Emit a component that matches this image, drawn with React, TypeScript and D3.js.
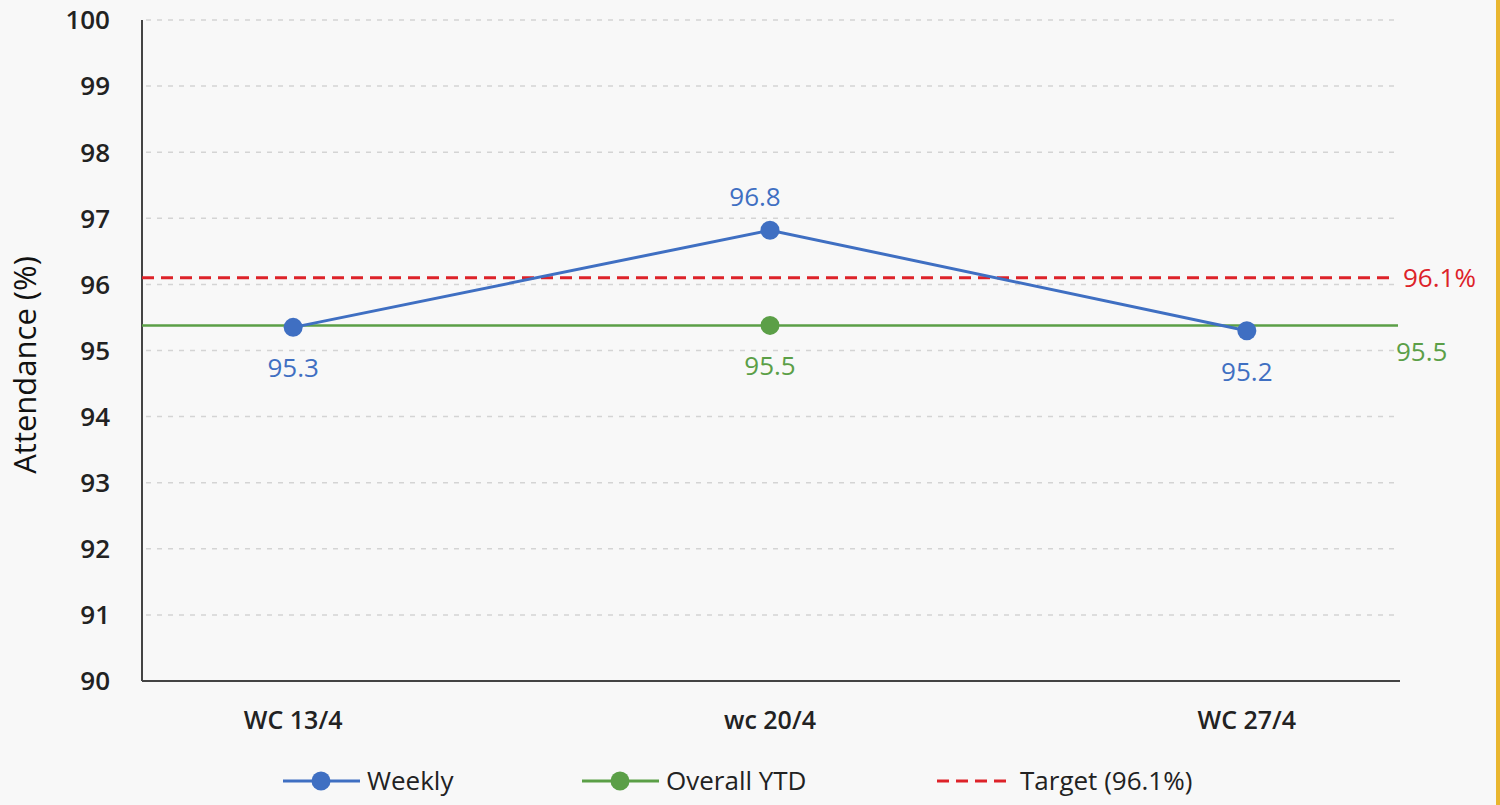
import React, { useEffect, useRef } from 'react';
import * as d3 from 'd3';

const weeks = ['WC 13/4', 'wc 20/4', 'WC 27/4'];
const weekly = [95.35, 96.82, 95.3];
const weeklyLabels = ['95.3', '96.8', '95.2'];
const overallYtd = 95.38;
const overallLabel = '95.5';
const target = 96.1;
const targetLabel = '96.1%';
const yTicks = [90, 91, 92, 93, 94, 95, 96, 97, 98, 99, 100];

const BLUE = '#3f6fc2';
const GREEN = '#5b9f47';
const RED = '#dd2229';
const FONT = '"Open Sans", "Liberation Sans", sans-serif';

const App = () => {
  const chartRef = useRef<SVGSVGElement>(null);

  useEffect(() => {
    document.body.style.margin = '0';
    if (!chartRef.current) return;

    const width = 1500;
    const height = 805;
    const left = 142;
    const right = 1398;
    const top = 20;
    const bottom = 681;

    const svg = d3.select(chartRef.current)
      .attr('width', width)
      .attr('height', height);
    svg.selectAll('*').remove();

    svg.append('rect')
      .attr('width', width)
      .attr('height', height)
      .attr('fill', '#f8f8f8');
    // orange strip on the right edge
    svg.append('rect')
      .attr('x', 1496)
      .attr('width', 4)
      .attr('height', height)
      .attr('fill', '#e9b62f');

    const x = d3.scalePoint<string>()
      .domain(weeks)
      .range([left, right])
      .padding(0.317);

    const y = d3.scaleLinear()
      .domain([90, 100])
      .range([bottom, top]);

    // gridlines
    svg.append('g')
      .selectAll('line')
      .data(yTicks.filter(t => t > 90))
      .enter().append('line')
      .attr('x1', left + 4)
      .attr('x2', right)
      .attr('y1', d => y(d))
      .attr('y2', d => y(d))
      .attr('stroke', '#d4d4d4')
      .attr('stroke-width', 1.5)
      .attr('stroke-dasharray', '5,6');

    // y tick labels
    svg.append('g')
      .selectAll('text')
      .data(yTicks)
      .enter().append('text')
      .attr('x', 110)
      .attr('y', d => y(d))
      .attr('dy', '0.36em')
      .attr('text-anchor', 'end')
      .attr('font-family', FONT)
      .attr('font-size', 26)
      .attr('font-weight', 600)
      .attr('fill', '#222')
      .text(d => d);

    // axes lines
    svg.append('line')
      .attr('x1', left).attr('x2', left)
      .attr('y1', top).attr('y2', bottom)
      .attr('stroke', '#444').attr('stroke-width', 2);
    svg.append('line')
      .attr('x1', left).attr('x2', right + 2)
      .attr('y1', bottom).attr('y2', bottom)
      .attr('stroke', '#444').attr('stroke-width', 2);

    // x labels
    svg.append('g')
      .selectAll('text')
      .data(weeks)
      .enter().append('text')
      .attr('x', d => x(d)!)
      .attr('y', 729)
      .attr('text-anchor', 'middle')
      .attr('font-family', FONT)
      .attr('font-size', 25)
      .attr('font-weight', 600)
      .attr('fill', '#222')
      .text(d => d);

    // y title
    svg.append('text')
      .attr('transform', `translate(36,${365}) rotate(-90)`)
      .attr('text-anchor', 'middle')
      .attr('font-family', FONT)
      .attr('font-size', 31)
      .attr('font-weight', 500)
      .attr('fill', '#111')
      .text('Attendance (%)');

    // target line
    svg.append('line')
      .attr('x1', left).attr('x2', 1392)
      .attr('y1', y(target)).attr('y2', y(target))
      .attr('stroke', RED).attr('stroke-width', 3)
      .attr('stroke-dasharray', '12,7');
    svg.append('text')
      .attr('x', 1403).attr('y', y(target))
      .attr('dy', '0.36em')
      .attr('font-family', FONT).attr('font-size', 26)
      .attr('fill', RED)
      .text(targetLabel);

    // overall YTD
    svg.append('line')
      .attr('x1', left).attr('x2', right)
      .attr('y1', y(overallYtd)).attr('y2', y(overallYtd))
      .attr('stroke', GREEN).attr('stroke-width', 2.5);
    svg.append('circle')
      .attr('cx', x(weeks[1])!).attr('cy', y(overallYtd))
      .attr('r', 9.5).attr('fill', GREEN);
    svg.append('text')
      .attr('x', x(weeks[1])!).attr('y', y(overallYtd) + 50)
      .attr('text-anchor', 'middle')
      .attr('font-family', FONT).attr('font-size', 26)
      .attr('fill', GREEN)
      .text(overallLabel);
    svg.append('text')
      .attr('x', 1396).attr('y', y(overallYtd) + 36)
      .attr('font-family', FONT).attr('font-size', 26)
      .attr('fill', GREEN)
      .text(overallLabel);

    // weekly series
    const line = d3.line<number>()
      .x((_, i) => x(weeks[i])!)
      .y(d => y(d));
    svg.append('path')
      .attr('d', line(weekly))
      .attr('fill', 'none')
      .attr('stroke', BLUE)
      .attr('stroke-width', 3);
    svg.append('g')
      .selectAll('circle')
      .data(weekly)
      .enter().append('circle')
      .attr('cx', (_, i) => x(weeks[i])!)
      .attr('cy', d => y(d))
      .attr('r', 9.5)
      .attr('fill', BLUE);
    svg.append('g')
      .selectAll('text')
      .data(weekly)
      .enter().append('text')
      .attr('x', (_, i) => x(weeks[i])! + (i === 1 ? -15 : 0))
      .attr('y', (d, i) => i === 1 ? y(d) - 24 : y(d) + 50)
      .attr('text-anchor', 'middle')
      .attr('font-family', FONT)
      .attr('font-size', 26)
      .attr('fill', BLUE)
      .text((_, i) => weeklyLabels[i]);

    // legend
    const legend = [
      { label: 'Weekly', color: BLUE, x: 283, dash: false },
      { label: 'Overall YTD', color: GREEN, x: 582, dash: false },
      { label: 'Target (96.1%)', color: RED, x: 937, dash: true },
    ];
    const lg = svg.append('g')
      .selectAll('g')
      .data(legend)
      .enter().append('g')
      .attr('transform', d => `translate(${d.x},781)`);
    lg.append('line')
      .attr('x1', 0).attr('x2', d => d.dash ? 70 : 77)
      .attr('stroke', d => d.color)
      .attr('stroke-width', 3)
      .attr('stroke-dasharray', d => d.dash ? '12,7' : null);
    lg.filter(d => !d.dash).append('circle')
      .attr('cx', 38)
      .attr('r', 9.5)
      .attr('fill', d => d.color);
    lg.append('text')
      .attr('x', d => d.dash ? 83 : 84)
      .attr('dy', '0.36em')
      .attr('font-family', FONT)
      .attr('font-size', 26)
      .attr('fill', '#222')
      .text(d => d.label);
  }, []);

  return <svg ref={chartRef} style={{ display: 'block' }}></svg>;
};

export default App;
